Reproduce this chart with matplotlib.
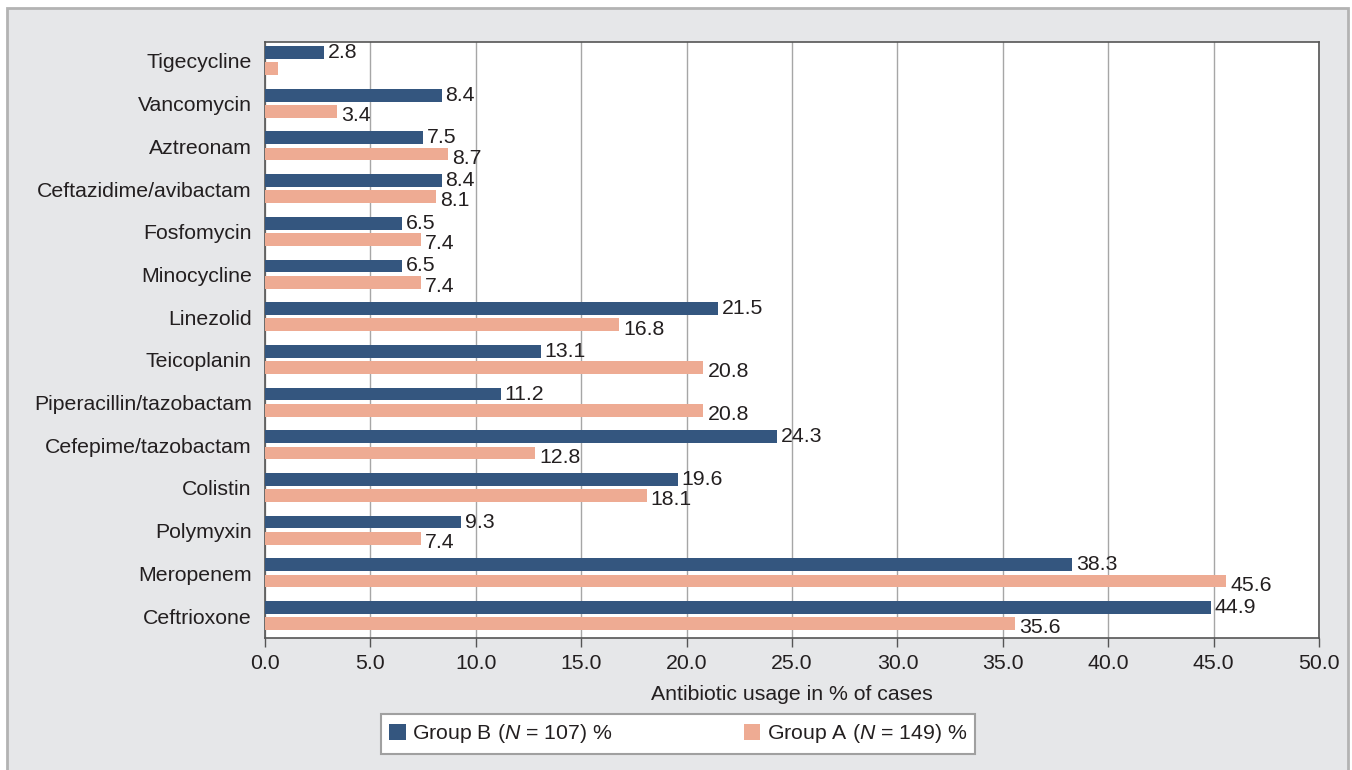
import matplotlib.pyplot as plt
from matplotlib.patches import Rectangle
import numpy as np

plt.rcParams['font.family'] = ['Liberation Sans', 'DejaVu Sans']
plt.rcParams['mathtext.fontset'] = 'custom'
plt.rcParams['mathtext.rm'] = 'Liberation Sans'
plt.rcParams['mathtext.it'] = 'Liberation Sans:italic'

# dados (de cima para baixo)
antibioticos = ['Tigecycline', 'Vancomycin', 'Aztreonam', 'Ceftazidime/avibactam',
                'Fosfomycin', 'Minocycline', 'Linezolid', 'Teicoplanin',
                'Piperacillin/tazobactam', 'Cefepime/tazobactam', 'Colistin',
                'Polymyxin', 'Meropenem', 'Ceftrioxone']
grupo_b = [2.8, 8.4, 7.5, 8.4, 6.5, 6.5, 21.5, 13.1, 11.2, 24.3, 19.6, 9.3, 38.3, 44.9]
grupo_a = [0.6, 3.4, 8.7, 8.1, 7.4, 7.4, 16.8, 20.8, 20.8, 12.8, 18.1, 7.4, 45.6, 35.6]
rotulo_b = 'Group B ($\\mathit{N}$ = 107) %'
rotulo_a = 'Group A ($\\mathit{N}$ = 149) %'
xticks = np.arange(0, 50.1, 5)

azul = '#34567f'
salmao = '#eeab93'
texto = '#231f20'
fundo = '#e6e7e9'
fs = 15.3

fig = plt.figure(figsize=(13.52, 7.7), dpi=100, facecolor='white')
fig.patches.append(Rectangle((7 / 1352, -0.01), 1341 / 1352, 1 - 8 / 770 + 0.01,
                             transform=fig.transFigure, facecolor=fundo,
                             edgecolor='#b3b3b3', linewidth=2, zorder=-10))

ax = fig.add_axes([265 / 1352, 1 - 638 / 770, 1054 / 1352, 596 / 770])
ax.set_facecolor('white')

y = np.arange(len(antibioticos))
altura = 0.3
barras_b = ax.barh(y - 0.2, grupo_b, height=altura, color=azul, zorder=3, label=rotulo_b)
barras_a = ax.barh(y + 0.18, grupo_a, height=altura, color=salmao, zorder=3, label=rotulo_a)

for yi, v in zip(y, grupo_b):
    ax.annotate(f'{v:.1f}', (v, yi - 0.2), xytext=(2.5, 0), textcoords='offset points',
                ha='left', va='center', fontsize=fs, color=texto)
for yi, v in zip(y, grupo_a):
    if v < 1:
        continue
    ax.annotate(f'{v:.1f}', (v, yi + 0.18), xytext=(3, -3), textcoords='offset points',
                ha='left', va='center', fontsize=fs, color=texto)

ax.set_xlim(0, 50)
ax.set_ylim(len(antibioticos) - 1 + 0.515, -0.445)
ax.set_xticks(xticks)
ax.set_xticklabels([f'{t:.1f}' for t in xticks])
ax.set_yticks(y)
ax.set_yticklabels(antibioticos)
ax.tick_params(axis='x', length=6.5, width=1, color='#555555', pad=5, labelsize=fs, labelcolor=texto)
ax.tick_params(axis='y', length=0, pad=9.5, labelsize=fs, labelcolor=texto)
ax.grid(axis='x', color='#a6a6a6', linewidth=1, zorder=0)
for s in ax.spines.values():
    s.set_color('#555555')
    s.set_linewidth(1.2)

ax.set_xlabel('Antibiotic usage in % of cases', fontsize=fs, color=texto, labelpad=9)

leg = fig.legend(handles=[barras_b, barras_a], loc='center', bbox_to_anchor=(0.5015, 0.0474),
                 ncol=2, fontsize=fs, frameon=True, fancybox=False, edgecolor='#a0a0a0',
                 facecolor='white', framealpha=1, handlelength=0.77, handleheight=0.77,
                 handletextpad=0.3, columnspacing=6.2, borderpad=0.4)
leg.get_frame().set_linewidth(1.5)
for t in leg.get_texts():
    t.set_color(texto)

fig.savefig('out.png', dpi=100, facecolor=fig.get_facecolor())
